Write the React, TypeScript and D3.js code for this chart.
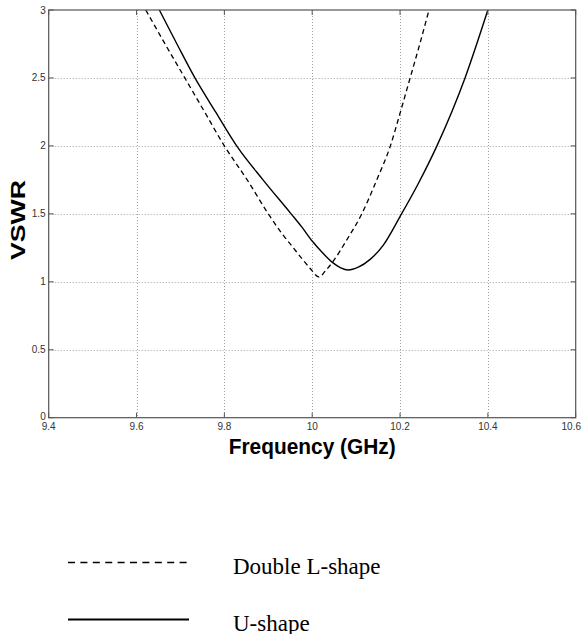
import React, { useEffect, useRef } from 'react';
import * as d3 from 'd3';

// Double L-shape (dashed)
const dashedFreq = [9.621, 9.665, 9.71, 9.755, 9.80, 9.852, 9.90, 9.93, 9.957, 9.978, 9.995, 10.016, 10.03, 10.046, 10.08, 10.113, 10.147, 10.178, 10.2, 10.223, 10.245, 10.266];
const dashedVswr = [3.0, 2.75, 2.5, 2.25, 2.0, 1.75, 1.5, 1.36, 1.25, 1.165, 1.1, 1.035, 1.08, 1.143, 1.315, 1.5, 1.75, 2.0, 2.24, 2.5, 2.75, 3.0];

// U-shape (solid)
const solidFreq = [9.652, 9.692, 9.733, 9.78, 9.828, 9.888, 9.952, 9.977, 10.0, 10.023, 10.046, 10.065, 10.082, 10.105, 10.132, 10.162, 10.2, 10.242, 10.284, 10.348, 10.40];
const solidVswr = [3.0, 2.75, 2.5, 2.25, 2.0, 1.75, 1.5, 1.4, 1.30, 1.215, 1.143, 1.103, 1.087, 1.108, 1.165, 1.27, 1.48, 1.725, 2.0, 2.5, 3.0];

const xTicks = [9.4, 9.6, 9.8, 10, 10.2, 10.4, 10.6];
const yTicks = [0, 0.5, 1, 1.5, 2, 2.5, 3];

const legendLabels = ['Double L-shape', 'U-shape'];

const App = () => {
  const ref = useRef<SVGSVGElement>(null);

  useEffect(() => {
    const svg = d3.select(ref.current);
    svg.selectAll('*').remove();

    const left = 48.7, right = 575.7, top = 10, bottom = 417.7;
    const x = d3.scaleLinear().domain([9.4, 10.6]).range([left, right]);
    const y = d3.scaleLinear().domain([0, 3]).range([bottom, top]);

    // grid
    const grid = svg.append('g').attr('stroke', '#a0a0a0').attr('stroke-width', 1).attr('stroke-dasharray', '1,2');
    grid.selectAll('.gx')
      .data(xTicks.slice(1, -1))
      .enter().append('line')
      .attr('x1', d => Math.round(x(d)) + 0.5).attr('x2', d => Math.round(x(d)) + 0.5)
      .attr('y1', top).attr('y2', bottom);
    grid.selectAll('.gy')
      .data(yTicks.slice(1, -1))
      .enter().append('line')
      .attr('y1', d => Math.round(y(d)) + 0.5).attr('y2', d => Math.round(y(d)) + 0.5)
      .attr('x1', left).attr('x2', right);

    // curves
    const line = d3.line<[number, number]>()
      .x(d => x(d[0]))
      .y(d => y(d[1]))
      .curve(d3.curveMonotoneX);

    const dashedPts = dashedFreq.map((f, i) => [f, dashedVswr[i]] as [number, number]);
    const solidPts = solidFreq.map((f, i) => [f, solidVswr[i]] as [number, number]);

    svg.append('path')
      .attr('d', line(dashedPts))
      .attr('fill', 'none')
      .attr('stroke', '#000')
      .attr('stroke-width', 1.3)
      .attr('stroke-dasharray', '5,3.5');

    svg.append('path')
      .attr('d', line(solidPts))
      .attr('fill', 'none')
      .attr('stroke', '#000')
      .attr('stroke-width', 1.4);

    // box
    svg.append('rect')
      .attr('x', left).attr('y', top)
      .attr('width', right - left).attr('height', bottom - top)
      .attr('fill', 'none').attr('stroke', '#555').attr('stroke-width', 1.2);

    // ticks (inside, all sides)
    const ticks = svg.append('g').attr('stroke', '#555').attr('stroke-width', 1);
    xTicks.forEach(t => {
      const px = x(t);
      ticks.append('line').attr('x1', px).attr('x2', px).attr('y1', bottom).attr('y2', bottom - 5);
      ticks.append('line').attr('x1', px).attr('x2', px).attr('y1', top).attr('y2', top + 5);
    });
    yTicks.forEach(t => {
      const py = y(t);
      ticks.append('line').attr('x1', left).attr('x2', left + 5).attr('y1', py).attr('y2', py);
      ticks.append('line').attr('x1', right).attr('x2', right - 5).attr('y1', py).attr('y2', py);
    });

    // tick labels
    svg.append('g')
      .selectAll('text')
      .data(xTicks)
      .enter().append('text')
      .attr('x', (d, i) => (i === xTicks.length - 1 ? 581 : x(d)))
      .attr('y', bottom + 12.5)
      .attr('text-anchor', (d, i) => (i === xTicks.length - 1 ? 'end' : 'middle'))
      .attr('font-family', 'Liberation Sans, Arial, sans-serif')
      .attr('font-size', 10)
      .attr('fill', '#333')
      .text(d => String(d));

    svg.append('g')
      .selectAll('text')
      .data(yTicks)
      .enter().append('text')
      .attr('x', left - 3)
      .attr('y', d => y(d) + 3.5 - (d === 0 ? 1.5 : 0))
      .attr('text-anchor', 'end')
      .attr('font-family', 'Liberation Sans, Arial, sans-serif')
      .attr('font-size', 10)
      .attr('fill', '#333')
      .text(d => String(d));

    // axis titles
    svg.append('text')
      .attr('x', (left + right) / 2)
      .attr('y', 453.5)
      .attr('text-anchor', 'middle')
      .attr('font-family', 'Liberation Sans, Arial, sans-serif')
      .attr('font-size', 22)
      .attr('font-weight', 'bold')
      .attr('textLength', 167)
      .attr('lengthAdjust', 'spacingAndGlyphs')
      .text('Frequency (GHz)');

    svg.append('text')
      .attr('transform', `translate(25,220) rotate(-90)`)
      .attr('text-anchor', 'middle')
      .attr('font-family', 'Liberation Sans, Arial, sans-serif')
      .attr('font-size', 21)
      .attr('font-weight', 'bold')
      .attr('textLength', 80)
      .attr('lengthAdjust', 'spacingAndGlyphs')
      .text('VSWR');

    // legend
    const legend = svg.append('g');
    const rows = [562.5, 619.5];
    legend.append('line')
      .attr('x1', 68).attr('x2', 188)
      .attr('y1', rows[0]).attr('y2', rows[0])
      .attr('stroke', '#000').attr('stroke-width', 1.3)
      .attr('stroke-dasharray', '7,5.4');
    legend.append('line')
      .attr('x1', 68).attr('x2', 189)
      .attr('y1', rows[1]).attr('y2', rows[1])
      .attr('stroke', '#000').attr('stroke-width', 2);
    legend.selectAll('.lt')
      .data(legendLabels)
      .enter().append('text')
      .attr('x', 233)
      .attr('y', (d, i) => rows[i] + 11)
      .attr('font-family', 'Liberation Serif, Times New Roman, serif')
      .attr('font-size', 23)
      .attr('fill', '#000')
      .text(d => d);
  }, []);

  return (
    <svg
      ref={ref}
      width={582}
      height={634}
      style={{ position: 'absolute', left: 0, top: 0, background: '#fff' }}
    />
  );
};

export default App;
